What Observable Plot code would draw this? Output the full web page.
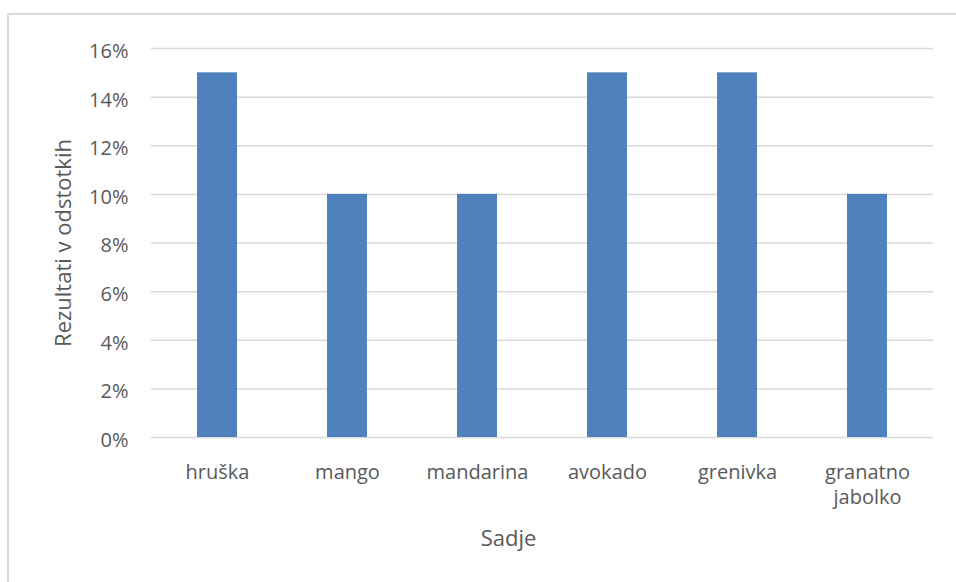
<!DOCTYPE html>
<html>
<head>
<meta charset="utf-8">
<script src="https://cdn.jsdelivr.net/npm/d3@7"></script>
<script src="https://cdn.jsdelivr.net/npm/@observablehq/plot@0.6"></script>
<style>
  html, body { margin: 0; padding: 0; background: #fff; overflow: hidden; }
  #wrap { position: relative; width: 956px; height: 582px; }
  #frame { position: absolute; left: 7px; top: 13px; width: 980px; height: 600px; border: 2px solid #d9d9d9; box-sizing: border-box; }
  #chart { position: absolute; left: 0; top: 0; }
</style>
</head>
<body>
<div id="wrap"><div id="frame"></div><div id="chart"></div></div>
<script>
const categories = ["hruška", "mango", "mandarina", "avokado", "grenivka", "granatno jabolko"];
const values = [0.15, 0.10, 0.10, 0.15, 0.15, 0.10];
const yTicks = [0, 0.02, 0.04, 0.06, 0.08, 0.10, 0.12, 0.14, 0.16];
const xTitle = "Sadje";
const yTitle = "Rezultati v odstotkih";

const data = categories.map((c, i) => ({fruit: c, value: values[i]}));
const font = "'Open Sans', sans-serif";
const gray = "#595959";

const chart = Plot.plot({
  width: 956,
  height: 582,
  marginLeft: 151,
  marginRight: 23,
  marginTop: 48,
  marginBottom: 145,
  style: {fontFamily: font, fontSize: "20px", color: gray, background: "transparent"},
  x: {domain: categories, paddingInner: 0.69, paddingOuter: 0.345},
  y: {domain: [0, 0.16]},
  marks: [
    Plot.gridY(yTicks, {stroke: "#d9d9d9", strokeOpacity: 1, strokeWidth: 1.5}),
    Plot.barY(data, {x: "fruit", y: "value", fill: "#4f81bd"}),
    Plot.axisY(yTicks, {tickFormat: d3.format(".0%"), tickSize: 0, tickPadding: 23, label: null, fill: gray, fontSize: 20, dy: 3}),
    Plot.axisY([], {label: yTitle, labelAnchor: "center", labelArrow: "none", labelOffset: 96, fill: gray, fontSize: 22}),
    Plot.axisX({tickSize: 0, tickPadding: 24, label: null, fill: gray, fontSize: 20, lineHeight: 1.25,
      tickFormat: d => d.replace(" ", "\n")}),
    Plot.text([xTitle], {frameAnchor: "bottom", dx: -34, dy: 108, fill: gray, fontSize: 22})
  ]
});
document.getElementById("chart").appendChild(chart);
</script>
</body>
</html>
